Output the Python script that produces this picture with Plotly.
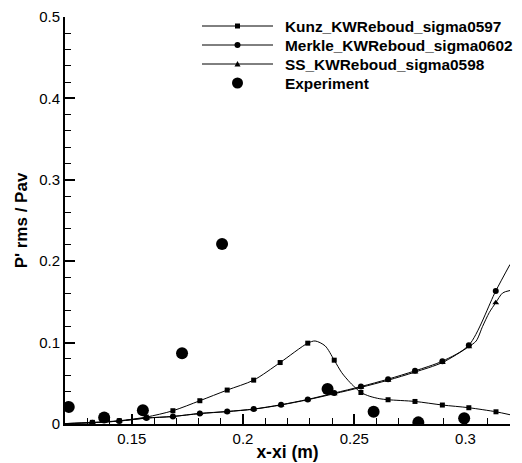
import plotly.graph_objects as go

# ---------------- data ----------------
series_names = ["Kunz_KWReboud_sigma0597", "Merkle_KWReboud_sigma0602",
                "SS_KWReboud_sigma0598", "Experiment"]

# Kunz: smooth curve points and the marked (square) samples
kunz_x = [0.1200, 0.1323, 0.1444, 0.1565, 0.1685, 0.1806, 0.1929, 0.2048, 0.2167,
          0.2291, 0.2324, 0.2369, 0.2410, 0.2444, 0.2481, 0.2511, 0.2530, 0.2570,
          0.2615, 0.2652, 0.2773, 0.2896, 0.3015, 0.3137, 0.3200]
kunz_y = [0.0005, 0.0020, 0.0040, 0.0085, 0.0163, 0.0286, 0.0417, 0.0539, 0.0755,
          0.0993, 0.1020, 0.0960, 0.0784, 0.0630, 0.0510, 0.0430, 0.0387, 0.0340,
          0.0310, 0.0298, 0.0277, 0.0233, 0.0200, 0.0150, 0.0114]
kunz_mx = [0.1323, 0.1444, 0.1565, 0.1685, 0.1806, 0.1929, 0.2048, 0.2167, 0.2291,
           0.2410, 0.2530, 0.2652, 0.2773, 0.2896, 0.3015, 0.3137]
kunz_my = [0.0020, 0.0040, 0.0085, 0.0163, 0.0286, 0.0417, 0.0539, 0.0755, 0.0993,
           0.0784, 0.0387, 0.0298, 0.0277, 0.0233, 0.0200, 0.0150]

# Merkle: curve and circle samples
merkle_x = [0.1200, 0.1323, 0.1444, 0.1566, 0.1685, 0.1806, 0.1929, 0.2048, 0.2171,
            0.2291, 0.2410, 0.2530, 0.2652, 0.2773, 0.2896, 0.3015, 0.3136, 0.3200]
merkle_y = [0.0005, 0.0016, 0.0037, 0.0074, 0.0093, 0.0130, 0.0154, 0.0184, 0.0237,
            0.0302, 0.0380, 0.0460, 0.0551, 0.0653, 0.0772, 0.0968, 0.1634, 0.1960]
merkle_mx = [0.1323, 0.1444, 0.1566, 0.1685, 0.1806, 0.1929, 0.2048, 0.2171, 0.2291,
             0.2410, 0.2530, 0.2652, 0.2773, 0.2896, 0.3015, 0.3136]
merkle_my = [0.0016, 0.0037, 0.0074, 0.0093, 0.0130, 0.0154, 0.0184, 0.0237, 0.0302,
             0.0380, 0.0460, 0.0551, 0.0653, 0.0772, 0.0968, 0.1634]

# SS: curve and triangle samples
ss_x = [0.1200, 0.1323, 0.1444, 0.1566, 0.1685, 0.1806, 0.1929, 0.2048, 0.2171,
        0.2291, 0.2410, 0.2530, 0.2652, 0.2773, 0.2896, 0.3015, 0.3048, 0.3077,
        0.3107, 0.3136, 0.3167, 0.3200]
ss_y = [0.0005, 0.0016, 0.0036, 0.0072, 0.0092, 0.0128, 0.0152, 0.0182, 0.0234,
        0.0298, 0.0372, 0.0450, 0.0538, 0.0638, 0.0755, 0.0950, 0.1020, 0.1200,
        0.1370, 0.1490, 0.1610, 0.1640]
ss_mx = [0.1323, 0.1444, 0.1566, 0.1685, 0.1806, 0.1929, 0.2048, 0.2171, 0.2291,
         0.2410, 0.2530, 0.2652, 0.2773, 0.2896, 0.3015, 0.3136]
ss_my = [0.0016, 0.0036, 0.0072, 0.0092, 0.0128, 0.0152, 0.0182, 0.0234, 0.0298,
         0.0372, 0.0450, 0.0538, 0.0638, 0.0755, 0.0950, 0.1490]

exp_x = [0.1217, 0.1376, 0.1550, 0.1726, 0.1906, 0.2380, 0.2587, 0.2788, 0.2994]
exp_y = [0.021, 0.008, 0.017, 0.087, 0.221, 0.043, 0.015, 0.002, 0.007]

x_tick_labels = ["0.15", "0.2", "0.25", "0.3"]
y_tick_labels = ["0", "0.1", "0.2", "0.3", "0.4", "0.5"]

# ---------------- figure ----------------
FONT = "Liberation Sans, Arial, Helvetica, sans-serif"
fig = go.Figure()

def curve(x, y):
    fig.add_trace(go.Scatter(x=x, y=y, mode="lines", showlegend=False,
                             line=dict(color="black", width=1, shape="spline", smoothing=0.8),
                             hoverinfo="skip"))

def marks(x, y, symbol, size, name):
    fig.add_trace(go.Scatter(x=x, y=y, mode="markers", name=name, showlegend=False,
                             marker=dict(color="black", symbol=symbol, size=size,
                                         line=dict(width=0))))

curve(ss_x, ss_y)
marks(ss_mx, ss_my, "triangle-up", 6, series_names[2])
curve(merkle_x, merkle_y)
marks(merkle_mx, merkle_my, "circle", 6, series_names[1])
curve(kunz_x, kunz_y)
marks(kunz_mx, kunz_my, "square", 5, series_names[0])
marks(exp_x, exp_y, "circle", 12, series_names[3])

# The page body has an 8px margin, so figure pixels = screen pixels - 8.
OFF = 8
# plot area in screen pixels (as in the reference)
L, R, T, B = 65, 510, 17, 424
W, H = R - L, B - T
def px(xp):
    return (xp - L) / W
def py(yp):
    return (B - yp) / H

# ---------------- custom legend (lines + markers + text) ----------------
rows = [26, 45, 64, 83]
lx0, lx1, mx, tx = px(202), px(273), px(237.5), px(283)
shapes = []
for i, r in enumerate(rows):
    yy = py(r)
    if i < 3:
        shapes.append(dict(type="line", xref="paper", yref="paper", x0=lx0, x1=lx1,
                           y0=yy, y1=yy, line=dict(color="black", width=1)))
    if i == 0:
        shapes.append(dict(type="rect", xref="paper", yref="paper", xsizemode="pixel",
                           ysizemode="pixel", xanchor=mx, yanchor=yy, x0=-2.5, x1=2.5,
                           y0=-2.5, y1=2.5, fillcolor="black", line=dict(width=0)))
    elif i == 1:
        shapes.append(dict(type="circle", xref="paper", yref="paper", xsizemode="pixel",
                           ysizemode="pixel", xanchor=mx, yanchor=yy, x0=-3, x1=3,
                           y0=-3, y1=3, fillcolor="black", line=dict(width=0)))
    elif i == 2:
        shapes.append(dict(type="path", xref="paper", yref="paper", xsizemode="pixel",
                           ysizemode="pixel", xanchor=mx, yanchor=yy,
                           path="M-3,-2.5 L3,-2.5 L0,3 Z",
                           fillcolor="black", line=dict(width=0)))
    else:
        shapes.append(dict(type="circle", xref="paper", yref="paper", xsizemode="pixel",
                           ysizemode="pixel", xanchor=mx, yanchor=yy, x0=-5.5, x1=5.5,
                           y0=-5.5, y1=5.5, fillcolor="black", line=dict(width=0)))

annotations = [dict(xref="paper", yref="paper", x=tx, y=py(r), xanchor="left",
                    yanchor="middle", showarrow=False, text=series_names[i],
                    font=dict(family=FONT, size=15.4, color="black", weight="bold"))
               for i, r in enumerate(rows)]

fig.update_layout(
    width=522, height=463,
    margin=dict(l=L - OFF, r=522 - (R - OFF), t=T - OFF, b=463 - (B - OFF)),
    paper_bgcolor="white", plot_bgcolor="white",
    showlegend=False,
    shapes=shapes, annotations=annotations,
    font=dict(family=FONT, size=15, color="black"),
    xaxis=dict(range=[0.12, 0.32], tickmode="array", automargin=False,
               tickvals=[float(v) for v in x_tick_labels], ticktext=x_tick_labels,
               ticks="inside", ticklen=10, tickwidth=2, tickcolor="black",
               minor=dict(ticks="inside", ticklen=6, tickwidth=1, dtick=0.01,
                          tick0=0.12, tickcolor="black"),
               showline=True, linewidth=2, linecolor="black", mirror=False,
               showgrid=False, zeroline=False,
               tickfont=dict(size=15),
               title=dict(text="x-xi (m)", standoff=0,
                          font=dict(size=17.5, weight="bold"))),
    yaxis=dict(range=[0, 0.5], tickmode="array", automargin=False,
               tickvals=[float(v) for v in y_tick_labels], ticktext=y_tick_labels,
               ticks="inside", ticklen=10, tickwidth=2, tickcolor="black",
               minor=dict(ticks="inside", ticklen=6, tickwidth=1, dtick=0.02,
                          tick0=0, tickcolor="black"),
               showline=True, linewidth=2, linecolor="black", mirror=False,
               showgrid=False, zeroline=False,
               tickfont=dict(size=15),
               title=dict(text="P' rms / Pav", standoff=7,
                          font=dict(size=17, weight="bold"))),
)

fig.write_html("out.html")
